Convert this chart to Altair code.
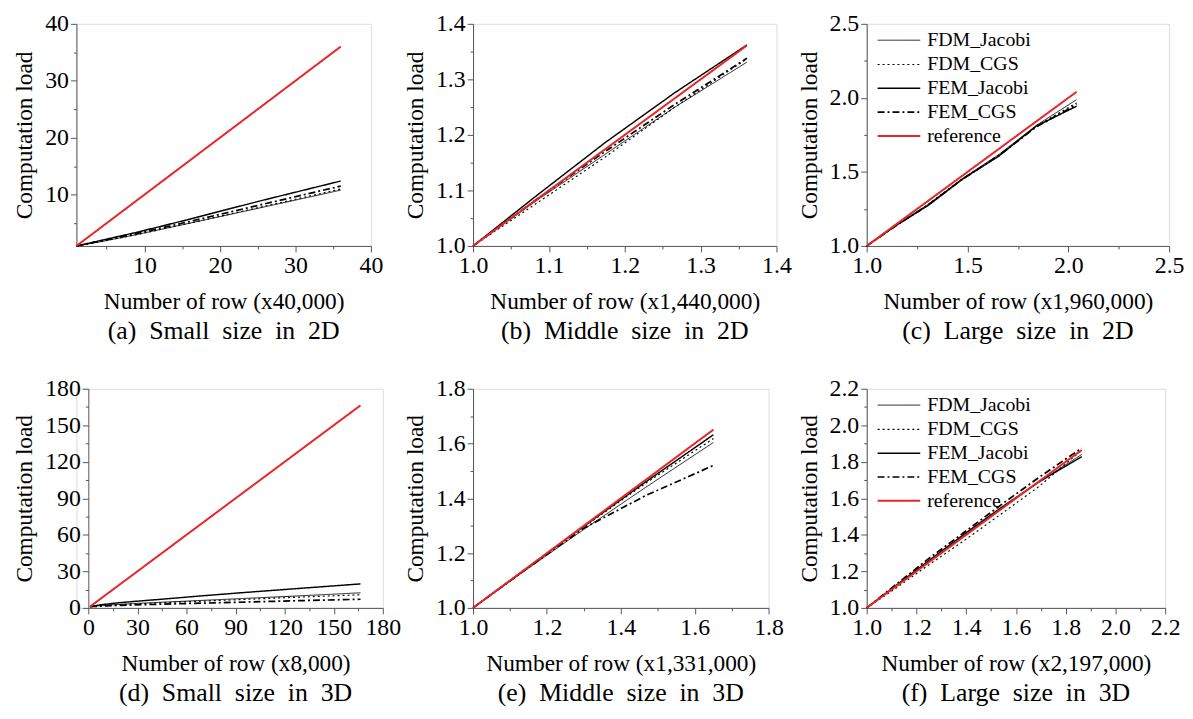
import altair as alt
import pandas as pd

SERIES = ["FDM_Jacobi", "FDM_CGS", "FEM_Jacobi", "FEM_CGS", "reference"]
COLORS = ["#000000", "#000000", "#000000", "#000000", "#e8262a"]
DASHES = [[1, 0], [2, 3], [1, 0], [7, 3, 2, 3], [1, 0]]
WIDTHS = [0.9, 2.0, 2.3, 1.8, 1.0]

FONT = "Liberation Serif"

# (a) Small size in 2D  (x40,000)
A_X = [1, 4, 9, 16, 25, 36]
A_FDM_J = [1, 1.7, 3.0, 5.0, 7.6, 10.8]
A_FDM_C = [1, 1.7, 3.0, 5.0, 7.7, 11.0]
A_FEM_J = [1, 1.9, 3.4, 5.7, 8.8, 12.4]
A_FEM_C = [1, 1.8, 3.2, 5.3, 8.1, 11.5]
A_REF = [1, 4, 9, 16, 25, 36]

# (b) Middle size in 2D  (x1,440,000)
B_X = [1.0, 1.085, 1.174, 1.266, 1.361]
B_FDM_J = [1.0, 1.083, 1.165, 1.25, 1.331]
B_FDM_C = [1.0, 1.078, 1.16, 1.25, 1.337]
B_FEM_J = [1.0, 1.092, 1.186, 1.276, 1.362]
B_FEM_C = [1.0, 1.085, 1.17, 1.255, 1.338]
B_REF = [1.0, 1.085, 1.174, 1.266, 1.361]

# (c) Large size in 2D  (x1,960,000)
C_X = [1.0, 1.148, 1.306, 1.474, 1.653, 1.842, 2.041]
C_FDM_J = [1.0, 1.142, 1.282, 1.455, 1.615, 1.815, 1.988]
C_FDM_C = [1.0, 1.14, 1.28, 1.452, 1.61, 1.81, 1.966]
C_FEM_J = [1.0, 1.14, 1.275, 1.45, 1.605, 1.81, 1.944]
C_FEM_C = [1.0, 1.14, 1.278, 1.45, 1.608, 1.805, 1.955]
C_REF = [1.0, 1.148, 1.306, 1.474, 1.653, 1.842, 2.041]

# (d) Small size in 3D  (x8,000)
D_X = [1, 3.375, 8, 15.625, 27, 42.875, 64, 91.125, 125, 166.375]
D_FDM_J = [1, 1.4, 2.0, 2.6, 3.5, 4.5, 5.8, 7.5, 9.6, 12.4]
D_FDM_C = [1, 1.3, 1.8, 2.4, 3.2, 4.1, 5.2, 6.7, 8.6, 10.8]
D_FEM_J = [1, 1.6, 2.6, 3.8, 5.2, 6.9, 9.3, 12.2, 15.6, 19.7]
D_FEM_C = [1, 1.2, 1.5, 1.9, 2.4, 3.0, 3.7, 4.6, 5.8, 7.1]
D_REF = [1, 3.375, 8, 15.625, 27, 42.875, 64, 91.125, 125, 166.375]

# (e) Middle size in 3D  (x1,331,000)
E_X = [1.0, 1.1427, 1.2983, 1.4673, 1.6507]
E_FDM_J = [1.0, 1.138, 1.285, 1.44, 1.604]
E_FDM_C = [1.0, 1.14, 1.294, 1.455, 1.618]
E_FEM_J = [1.0, 1.142, 1.296, 1.46, 1.632]
E_FEM_C = [1.0, 1.14, 1.29, 1.41, 1.52]
E_REF = [1.0, 1.1427, 1.2983, 1.4673, 1.6507]

# (f) Large size in 3D  (x2,197,000)
F_X = [1.0, 1.1198, 1.249, 1.3882, 1.5362, 1.6929, 1.8643]
F_FDM_J = [1.0, 1.122, 1.252, 1.392, 1.54, 1.69, 1.84]
F_FDM_C = [1.0, 1.11, 1.235, 1.365, 1.51, 1.665, 1.864]
F_FEM_J = [1.0, 1.125, 1.258, 1.4, 1.545, 1.69, 1.828]
F_FEM_C = [1.0, 1.13, 1.27, 1.41, 1.56, 1.715, 1.875]
F_REF = [1.0, 1.1198, 1.249, 1.3882, 1.5362, 1.6929, 1.8643]


def frame(xs, ys_list):
    rows = []
    for name, ys in zip(SERIES, ys_list):
        for xv, yv in zip(xs, ys):
            rows.append({"x": xv, "y": yv, "series": name})
    return pd.DataFrame(rows)


def major_axis(values, fmt, title, orient, offset=0):
    return alt.Axis(
        values=values, format=fmt, orient=orient, grid=False, offset=offset,
        tickSize=6, tickColor="#555", tickWidth=1,
        domainColor="#555", domainWidth=1,
        labelFont=FONT, labelFontSize=24, labelColor="black",
        labelPadding=2, labelFlush=False, labelOverlap=False,
        title=title, titlePadding=12 if orient == "bottom" else 8,
        titleFont=FONT, titleFontSize=23.5, titleFontWeight="normal",
        titleColor="black",
    )


def minor_axis(values, orient, offset=0):
    return alt.Axis(values=values, orient=orient, labels=False, domain=False,
                    grid=False, title=None, tickSize=3, tickColor="#555",
                    tickWidth=1, offset=offset)


def panel(xs, ys_list, xd, yd, xt, xm, yt, ym, fmt, xtitle, caption,
          w, h, legend=False, shift=0):
    df = frame(xs, ys_list)
    if not legend:
        leg = None
    else:
        leg = alt.Legend(title=None, orient="none", legendX=33 + shift,
                         legendY=6, symbolType="M-3.3,0H1", symbolSize=400,
                         labelFont=FONT, labelFontSize=20, labelColor="black",
                         rowPadding=3, labelOffset=6, padding=0)
    xs_scale = alt.Scale(domain=xd, range=[shift, shift + w], nice=False,
                         zero=False)
    ys_scale = alt.Scale(domain=yd, nice=False, zero=False)
    main = alt.Chart(df).mark_line().encode(
        x=alt.X("x:Q", scale=xs_scale,
                axis=major_axis(xt, fmt[0], xtitle, "bottom")),
        y=alt.Y("y:Q", scale=ys_scale,
                axis=major_axis(yt, fmt[1], "Computation load", "left",
                                offset=-shift)),
        color=alt.Color("series:N", sort=SERIES,
                        scale=alt.Scale(domain=SERIES, range=COLORS), legend=leg),
        strokeDash=alt.StrokeDash("series:N", sort=SERIES,
                                  scale=alt.Scale(domain=SERIES, range=DASHES),
                                  legend=leg),
        strokeWidth=alt.StrokeWidth("series:N", sort=SERIES,
                                    scale=alt.Scale(domain=SERIES, range=WIDTHS),
                                    legend=leg),
    )
    minor = alt.Chart(df).mark_line(opacity=0).encode(
        x=alt.X("x:Q", scale=xs_scale, axis=minor_axis(xm, "bottom")),
        y=alt.Y("y:Q", scale=ys_scale, axis=minor_axis(ym, "left", -shift)),
        detail="series:N",
    )
    return alt.layer(minor, main).resolve_axis(
        x="independent", y="independent"
    ).properties(
        width=w + shift, height=h,
        title=alt.TitleParams(caption, orient="bottom", font=FONT, fontSize=26,
                              fontWeight="normal", color="black", offset=5,
                              anchor="middle", dx=shift / 2),
    )


def sp(t):
    return t.replace("  ", "\u00a0 ")


pa = panel(A_X, [A_FDM_J, A_FDM_C, A_FEM_J, A_FEM_C, A_REF], [1, 40], [1, 40],
           [10, 20, 30, 40], [5, 15, 25, 35], [10, 20, 30, 40], [5, 15, 25, 35],
           ("d", "d"), "Number of row (x40,000)", sp("(a)  Small  size  in  2D"),
           297, 224)
pb = panel(B_X, [B_FDM_J, B_FDM_C, B_FEM_J, B_FEM_C, B_REF], [1, 1.4], [1, 1.4],
           [1.0, 1.1, 1.2, 1.3, 1.4], [1.05, 1.15, 1.25, 1.35],
           [1.0, 1.1, 1.2, 1.3, 1.4], [1.05, 1.15, 1.25, 1.35],
           (".1f", ".1f"), "Number of row (x1,440,000)",
           sp("(b)  Middle  size  in  2D"), 306, 224)
pc = panel(C_X, [C_FDM_J, C_FDM_C, C_FEM_J, C_FEM_C, C_REF], [1, 2.5], [1, 2.5],
           [1.0, 1.5, 2.0, 2.5], [1.25, 1.75, 2.25],
           [1.0, 1.5, 2.0, 2.5], [1.25, 1.75, 2.25],
           (".1f", ".1f"), "Number of row (x1,960,000)",
           sp("(c)  Large  size  in  2D"), 305, 224, legend=True)
pd_ = panel(D_X, [D_FDM_J, D_FDM_C, D_FEM_J, D_FEM_C, D_REF], [0, 180], [0, 180],
            [0, 30, 60, 90, 120, 150, 180], [15, 45, 75, 105, 135, 165],
            [0, 30, 60, 90, 120, 150, 180], [15, 45, 75, 105, 135, 165],
            ("d", "d"), "Number of row (x8,000)", sp("(d)  Small  size  in  3D"),
            297, 221, shift=12)
pe = panel(E_X, [E_FDM_J, E_FDM_C, E_FEM_J, E_FEM_C, E_REF], [1, 1.8], [1, 1.8],
           [1.0, 1.2, 1.4, 1.6, 1.8], [1.1, 1.3, 1.5, 1.7],
           [1.0, 1.2, 1.4, 1.6, 1.8], [1.1, 1.3, 1.5, 1.7],
           (".1f", ".1f"), "Number of row (x1,331,000)",
           sp("(e)  Middle  size  in  3D"), 298, 221)
pf = panel(F_X, [F_FDM_J, F_FDM_C, F_FEM_J, F_FEM_C, F_REF], [1, 2.2], [1, 2.2],
           [1.0, 1.2, 1.4, 1.6, 1.8, 2.0, 2.2], [1.1, 1.3, 1.5, 1.7, 1.9, 2.1],
           [1.0, 1.2, 1.4, 1.6, 1.8, 2.0, 2.2], [1.1, 1.3, 1.5, 1.7, 1.9, 2.1],
           (".1f", ".1f"), "Number of row (x2,197,000)",
           sp("(f)  Large  size  in  3D"), 301, 221, legend=True)

indep = dict(color="independent", strokeDash="independent",
             strokeWidth="independent", x="independent", y="independent")

chart = alt.concat(
    pa, pb, pc, pd_, pe, pf, columns=3, align="none", bounds="flush",
    spacing={"row": 144, "column": 91},
).resolve_scale(**indep).properties(
    padding={"left": 4, "top": 0, "right": 0, "bottom": 0}
).configure_view(stroke=None).configure(background="white")

chart.save("out.html", embed_options={"renderer": "svg", "actions": False})
